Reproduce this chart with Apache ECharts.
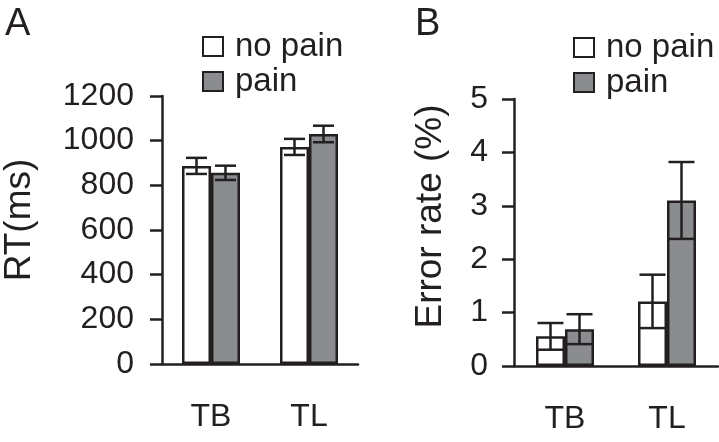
<!DOCTYPE html>
<html>
<head>
<meta charset="utf-8">
<script src="https://cdn.jsdelivr.net/npm/echarts@6/dist/echarts.min.js"></script>
<style>
html,body{margin:0;padding:0;background:#fff;}
#chart{width:719px;height:442px;}
</style>
</head>
<body>
<div id="chart"></div>
<script>
// ---- data ----
const categories = ['TB', 'TL'];
const seriesNames = ['no pain', 'pain'];
// Panel A: reaction time (ms)
const rtNoPain = [887, 972];
const rtNoPainErr = [36, 36];
const rtPain = [856, 1030];
const rtPainErr = [32, 37];
const rtTicks = { min: 0, max: 1200, interval: 200 };
// Panel B: error rate (%)
const errNoPain = [0.555, 1.21];
const errNoPainErr = [0.25, 0.5];
const errPain = [0.69, 3.1];
const errPainErr = [0.28, 0.72];
const errTicks = { min: 0, max: 5, interval: 1 };

// ---- styles ----
const INK = '#231f20';
const GRAY = '#8b8c8f';
const FONT = 'Liberation Sans, Arial, Helvetica, sans-serif';
const BAR_W = 29;

function errData(means, errs) {
  return means.map((m, i) => [i, m - errs[i], m + errs[i]]);
}

function errorBarSeries(name, gridIdx, means, errs, sign, capW) {
  return {
    type: 'custom',
    name: name + ' err',
    xAxisIndex: gridIdx, yAxisIndex: gridIdx,
    z: 10,
    silent: true,
    clip: false,
    data: errData(means, errs),
    renderItem: function (params, api) {
      const lo = api.coord([api.value(0), api.value(1)]);
      const hi = api.coord([api.value(0), api.value(2)]);
      const x = lo[0] + sign * BAR_W / 2;
      const st = { stroke: INK, lineWidth: 2.5 };
      return {
        type: 'group',
        children: [
          { type: 'line', shape: { x1: x, y1: lo[1], x2: x, y2: hi[1] }, style: st },
          { type: 'line', shape: { x1: x - capW / 2, y1: lo[1], x2: x + capW / 2, y2: lo[1] }, style: st },
          { type: 'line', shape: { x1: x - capW / 2, y1: hi[1], x2: x + capW / 2, y2: hi[1] }, style: st }
        ]
      };
    }
  };
}

function barSeries(name, gridIdx, values, color) {
  return {
    type: 'bar',
    name: name,
    xAxisIndex: gridIdx, yAxisIndex: gridIdx,
    data: values,
    barWidth: BAR_W,
    barGap: '0%',
    itemStyle: { color: color, borderColor: INK, borderWidth: 2.5 },
    emphasis: { disabled: true }
  };
}

function xAxis(gridIdx) {
  return {
    type: 'category', gridIndex: gridIdx, data: categories,
    axisLine: { lineStyle: { color: INK, width: 2.5 } },
    axisTick: { show: false },
    axisLabel: { color: INK, fontSize: 32, fontFamily: FONT, margin: 37 },
    splitLine: { show: false }
  };
}

function yAxis(gridIdx, ticks, name, nameGap, namePadShift, labelMargin) {
  return {
    type: 'value', gridIndex: gridIdx,
    min: ticks.min, max: ticks.max, interval: ticks.interval,
    name: name, nameLocation: 'middle', nameGap: nameGap,
    nameTextStyle: { color: INK, fontSize: 37, fontFamily: FONT, padding: [0, 0, 0, namePadShift] },
    axisLine: { show: true, lineStyle: { color: INK, width: 2.5 } },
    axisTick: { show: true, length: 12, lineStyle: { color: INK, width: 2.5 } },
    axisLabel: { color: INK, fontSize: 32, fontFamily: FONT, margin: labelMargin, formatter: v => String(v) },
    splitLine: { show: false }
  };
}

function legend(gridIdx, left, top) {
  return {
    orient: 'vertical', left: left, top: top,
    data: seriesNames.map(n => ({ name: n + (gridIdx ? ' ' : ''), icon: 'rect' })),
    itemWidth: 20, itemHeight: 19, itemGap: 2, padding: 0,
    selectedMode: false,
    textStyle: { color: INK, fontSize: 33, fontFamily: FONT, padding: [0, 0, 0, 7] }
  };
}

const chart = echarts.init(document.getElementById('chart'), null, { renderer: 'canvas' });
chart.setOption({
  backgroundColor: '#fff',
  animation: false,
  title: [
    { text: 'A', left: 5, top: 6, padding: 0, textStyle: { color: INK, fontSize: 38, fontWeight: 'normal', fontFamily: FONT } },
    { text: 'B', left: 415, top: 6, padding: 0, textStyle: { color: INK, fontSize: 38, fontWeight: 'normal', fontFamily: FONT } }
  ],
  legend: [legend(0, 202, 30), legend(1, 573, 31)],
  grid: [
    { left: 159, width: 199, top: 96, height: 268 },
    { left: 514, width: 204, top: 99, height: 267 }
  ],
  xAxis: [xAxis(0), xAxis(1)],
  yAxis: [
    yAxis(0, rtTicks, 'RT(ms)', 124, 20, 28),
    yAxis(1, errTicks, 'Error rate (%)', 65, 32, 26)
  ],
  series: [
    barSeries('no pain', 0, rtNoPain, '#ffffff'),
    barSeries('pain', 0, rtPain, GRAY),
    errorBarSeries('no pain', 0, rtNoPain, rtNoPainErr, -1, 21),
    errorBarSeries('pain', 0, rtPain, rtPainErr, 1, 21),
    barSeries('no pain ', 1, errNoPain, '#ffffff'),
    barSeries('pain ', 1, errPain, GRAY),
    errorBarSeries('no pain', 1, errNoPain, errNoPainErr, -1, 26),
    errorBarSeries('pain', 1, errPain, errPainErr, 1, 26)
  ]
});
</script>
</body>
</html>
